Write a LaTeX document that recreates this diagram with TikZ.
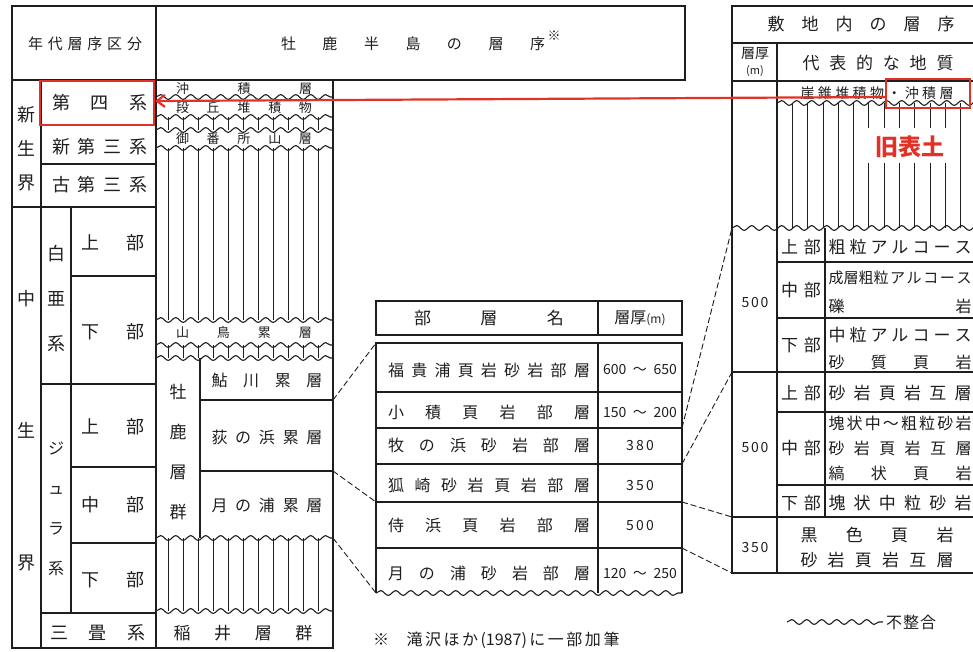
\documentclass[tikz,border=0pt]{standalone}
\usepackage{fontspec}
\setmainfont{Noto Sans CJK JP}
\usepackage{xcolor}
\usetikzlibrary{decorations.pathmorphing,arrows.meta}
\definecolor{ink}{RGB}{30,30,30}
\definecolor{redmark}{RGB}{226,50,40}
% spread a spaced text over a given width
\newcommand{\spr}[2]{\makebox[#1][s]{\spaceskip=0pt plus 1fil\relax #2}}

\begin{document}
\begin{tikzpicture}[x=1pt, y=-1pt,
  rule/.style={draw=ink, line width=1.3pt},
  hatch/.style={draw=ink, line width=0.8pt},
  wave/.style={draw=ink, line width=1.1pt, decorate, decoration={snake, segment length=15pt, amplitude=2.4pt}},
  link/.style={draw=ink, line width=0.9pt, dash pattern=on 6pt off 3pt},
  redbox/.style={draw=redmark, line width=2.2pt, inner sep=0pt},
  tx/.style={inner sep=0pt, text=ink, font=\fontsize{16}{16}\selectfont},
  bigtx/.style={tx, font=\fontsize{18}{18}\selectfont},
  smalltx/.style={tx, font=\fontsize{13}{13}\selectfont},
  numtx/.style={tx, font=\fontsize{14}{14}\selectfont},
  vert/.style={tx, align=center}]
\useasboundingbox (0,0) rectangle (973,651);

% left table
\draw[rule] (12,6) rectangle (685,80);
\draw[rule] (12,80) -- (12,648) -- (333,648) -- (333,80);
\draw[rule] (156,6) -- (156,648) (41,80) -- (41,648);
\draw[rule] (41,125) -- (156,125) (41,164) -- (156,164) (12,207) -- (156,207);
\draw[rule] (71,207) -- (71,613);
\draw[rule] (71,276) -- (156,276) (41,384) -- (156,384) (71,467) -- (156,467) (71,543) -- (156,543) (41,613) -- (156,613);

% Oshika column
\draw[wave] (156,97) -- (333,97);
\draw[wave] (156,117) -- (333,117);
\draw[wave] (156,130) -- (333,130);
\foreach \x in {168,183,...,318} \draw[hatch] (\x,117) -- (\x,130);
\draw[wave] (156,148) -- (333,148);
\foreach \x in {168,183,...,318} \draw[hatch] (\x,148) -- (\x,320);
\draw[wave] (156,320) -- (333,320);
\draw[wave] (156,345) -- (333,345);
\draw[wave] (156,358) -- (333,358);
\foreach \x in {168,183,...,318} \draw[hatch] (\x,345) -- (\x,358);
\draw[rule] (200,358) -- (200,538) (200,400) -- (333,400) (200,471) -- (333,471);
\draw[wave] (156,538) -- (333,538);
\foreach \x in {168,183,...,318} \draw[hatch] (\x,538) -- (\x,611);
\draw[wave] (156,611) -- (333,611);

% member table
\draw[rule] (376,301) rectangle (682,335) (598,301) -- (598,335);
\draw[rule] (376,593) -- (376,343) -- (682,343) -- (682,593) (598,343) -- (598,593);
\draw[wave] (376,593) -- (682,593);
\foreach \y in {392,428,464,502,548} \draw[rule] (376,\y) -- (682,\y);

% site table
\draw[rule] (985,6) -- (732,6) -- (732,573) -- (985,573);
\draw[rule] (732,43) -- (985,43) (732,81) -- (985,81) (777,43) -- (777,573);
\draw[wave] (777,103) -- (985,103);
\foreach \x in {792,807,823,838,853,960} \draw[hatch] (\x,103) -- (\x,228);
\foreach \x in {868,884,899,914,930,945} \draw[hatch] (\x,103) -- (\x,128) (\x,163) -- (\x,228);
\draw[wave] (732,228) -- (985,228);
\draw[rule] (825,228) -- (825,517);
\draw[rule] (777,262) -- (985,262) (777,318) -- (985,318) (732,372) -- (985,372);
\draw[rule] (777,412) -- (985,412) (777,485) -- (985,485) (732,517) -- (985,517);

% dashed links
\coordinate (ayuB) at (333,400);
\coordinate (ogiB) at (333,471);
\coordinate (tsukiB) at (333,538);
\coordinate (fukiT) at (376,343);
\coordinate (samuT) at (376,502);
\coordinate (memB) at (376,593);
\coordinate (koziB) at (682,428);
\coordinate (makiB) at (682,464);
\coordinate (kitsuB) at (682,502);
\coordinate (samuB) at (682,548);
\coordinate (upT) at (732,228);
\coordinate (midT) at (732,372);
\coordinate (lowT) at (732,517);
\coordinate (lowB) at (732,573);
\draw[link] (ayuB) -- (fukiT);
\draw[link] (ogiB) -- (samuT);
\draw[link] (tsukiB) -- (memB);
\draw[link] (koziB) -- (upT);
\draw[link] (makiB) -- (midT);
\draw[link] (kitsuB) -- (lowT);
\draw[link] (samuB) -- (lowB);

% left table texts
\node[tx, font=\fontsize{15}{15}\selectfont] (era) at (85,44) {\spr{114pt}{年 代 層 序 区 分}};
\node[bigtx] (quatT) at (100,103) {\spr{96pt}{第 四 系}};
\node[bigtx] (neoT) at (100,147) {\spr{96pt}{新 第 三 系}};
\node[bigtx] (paleoT) at (100,185) {\spr{96pt}{古 第 三 系}};
\node[vert, font=\fontsize{18}{34}\selectfont] (ceno) at (26,149) {新\\生\\界};
\node[vert, font=\fontsize{18}{132}\selectfont] (meso) at (26,431) {中\\生\\界};
\node[vert, font=\fontsize{18}{45}\selectfont] (cret) at (56,299) {白\\亜\\系};
\node[vert, font=\fontsize{16}{40}\selectfont] (jura) at (56,509) {ジ\\ュ\\ラ\\系};
\node[bigtx] (cretU) at (113,243) {\spr{64pt}{上 部}};
\node[bigtx] (cretL) at (113,332) {\spr{64pt}{下 部}};
\node[bigtx] (juraU) at (113,427) {\spr{64pt}{上 部}};
\node[bigtx] (juraM) at (113,505) {\spr{64pt}{中 部}};
\node[bigtx] (juraL) at (113,580) {\spr{64pt}{下 部}};
\node[bigtx] (tri) at (98,633) {\spr{95pt}{三 畳 系}};

% column texts
\node[smalltx] (chuseki) at (244,89) {\spr{136pt}{沖 積 層}};
\node[smalltx] (dankyu) at (244,108) {\spr{136pt}{段 丘 堆 積 物}};
\node[smalltx] (goban) at (244,139) {\spr{136pt}{御 番 所 山 層}};
\node[smalltx] (yamadori) at (244,333) {\spr{136pt}{山 鳥 累 層}};
\node[vert, font=\fontsize{17}{40}\selectfont] (oshika) at (178,452) {牡\\鹿\\層\\群};
\node[tx] (ayu) at (267,380) {\spr{111pt}{鮎 川 累 層}};
\node[tx] (ogi) at (267,437) {\spr{111pt}{荻 の 浜 累 層}};
\node[tx] (tsuki) at (267,505) {\spr{111pt}{月 の 浦 累 層}};
\node[tx, font=\fontsize{17}{17}\selectfont] (inai) at (243,633) {\spr{139pt}{稲 井 層 群}};
\node[tx, font=\fontsize{15}{15}\selectfont] (title) at (413,44) {\spr{264pt}{牡 鹿 半 島 の 層 序}};
\node[tx, font=\fontsize{13}{13}\selectfont] (star) at (554,36) {※};

% member table texts
\node[tx, font=\fontsize{17}{17}\selectfont] (memHd) at (489,318) {\spr{150pt}{部 層 名}};
\node[tx] (thkHd) at (640,318) {層厚{\fontsize{12}{12}\selectfont(m)}};
\node[tx] (fuki) at (489,370) {\spr{202pt}{福 貴 浦 頁 岩 砂 岩 部 層}};
\node[tx] (kozumi) at (489,412) {\spr{202pt}{小 積 頁 岩 部 層}};
\node[tx] (maki) at (489,445) {\spr{202pt}{牧 の 浜 砂 岩 部 層}};
\node[tx] (kitsune) at (489,485) {\spr{202pt}{狐 崎 砂 岩 頁 岩 部 層}};
\node[tx] (samurai) at (489,525) {\spr{202pt}{侍 浜 頁 岩 部 層}};
\node[tx] (tsukiM) at (489,573) {\spr{202pt}{月 の 浦 砂 岩 部 層}};
\node[numtx] (fukiN) at (640,370) {\spr{74pt}{600 ～ 650}};
\node[numtx] (kozumiN) at (640,412) {\spr{74pt}{150 ～ 200}};
\node[numtx] (makiN) at (640,445) {\spr{28pt}{3 8 0}};
\node[numtx] (kitsuneN) at (640,485) {\spr{28pt}{3 5 0}};
\node[numtx] (samuraiN) at (640,525) {\spr{28pt}{5 0 0}};
\node[numtx] (tsukiN) at (640,573) {\spr{74pt}{120 ～ 250}};
\node[tx] (fnMark) at (381,640) {※};
\node[tx] (fn) at (513,640) {\spr{213pt}{滝 沢 ほ か (1987) に 一 部 加 筆}};

% site table texts
\node[tx, font=\fontsize{17}{17}\selectfont] (site) at (861,24) {\spr{187pt}{敷 地 内 の 層 序}};
\node[vert, font=\fontsize{14}{16}\selectfont] (thk) at (755,62) {層厚\\{\fontsize{11}{11}\selectfont(m)}};
\node[tx, font=\fontsize{17}{17}\selectfont] (geo) at (878,63) {\spr{151pt}{代 表 的 な 地 質}};
\node[tx, font=\fontsize{14}{14}\selectfont] (talus) at (877,93) {\spr{153pt}{崖 錐 堆 積 物 ・ 沖 積 層}};
\node[tx, text=redmark, font=\bfseries\fontsize{23}{23}\selectfont] (oldsoil) at (910,147) {旧表土};
\node[numtx] (thkA) at (755,303) {\spr{27pt}{5 0 0}};
\node[numtx] (thkB) at (755,447) {\spr{27pt}{5 0 0}};
\node[numtx] (thkC) at (755,547) {\spr{27pt}{3 5 0}};
\node[tx, font=\fontsize{17}{17}\selectfont] (pA1) at (801,247) {\spr{40pt}{上 部}};
\node[tx, font=\fontsize{17}{17}\selectfont] (pA2) at (801,290) {\spr{40pt}{中 部}};
\node[tx, font=\fontsize{17}{17}\selectfont] (pA3) at (801,345) {\spr{40pt}{下 部}};
\node[tx, font=\fontsize{17}{17}\selectfont] (pB1) at (801,393) {\spr{40pt}{上 部}};
\node[tx, font=\fontsize{17}{17}\selectfont] (pB2) at (801,448) {\spr{40pt}{中 部}};
\node[tx, font=\fontsize{17}{17}\selectfont] (pB3) at (801,503) {\spr{40pt}{下 部}};
\node[tx, font=\fontsize{17}{17}\selectfont] (dA1) at (900,247) {\spr{143pt}{粗 粒 ア ル コ ー ス}};
\node[tx, font=\fontsize{15}{15}\selectfont] (dA2) at (900,278) {\spr{143pt}{成層粗粒 ア ル コ ー ス}};
\node[tx, font=\fontsize{16}{16}\selectfont] (dA3) at (900,306) {\spr{143pt}{礫 岩}};
\node[tx, font=\fontsize{17}{17}\selectfont] (dA4) at (900,335) {\spr{143pt}{中 粒 ア ル コ ー ス}};
\node[tx, font=\fontsize{16}{16}\selectfont] (dA5) at (900,362) {\spr{143pt}{砂 質 頁 岩}};
\node[tx, font=\fontsize{17}{17}\selectfont] (dB1) at (900,393) {\spr{143pt}{砂 岩 頁 岩 互 層}};
\node[tx, font=\fontsize{16}{16}\selectfont] (dB2) at (900,423) {\spr{143pt}{塊 状 中 ～ 粗 粒 砂 岩}};
\node[tx, font=\fontsize{16}{16}\selectfont] (dB3) at (900,448) {\spr{143pt}{砂 岩 頁 岩 互 層}};
\node[tx, font=\fontsize{16}{16}\selectfont] (dB4) at (900,473) {\spr{143pt}{縞 状 頁 岩}};
\node[tx, font=\fontsize{17}{17}\selectfont] (dB5) at (900,503) {\spr{143pt}{塊 状 中 粒 砂 岩}};
\node[tx, font=\fontsize{17}{17}\selectfont] (dC1) at (877,535) {\spr{153pt}{黒 色 頁 岩}};
\node[tx, font=\fontsize{17}{17}\selectfont] (dC2) at (877,560) {\spr{153pt}{砂 岩 頁 岩 互 層}};

% legend
\coordinate (uncA) at (787,622);
\coordinate (uncB) at (883,622);
\draw[wave] (uncA) -- (uncB);
\node[tx, font=\fontsize{16}{16}\selectfont] (unc) at (911,622) {\spr{50pt}{不 整 合}};

% red marks
\node[redbox, minimum width=114pt, minimum height=44pt] (quat) at (97,103) {};
\node[redbox, minimum width=84pt, minimum height=29pt] (alluv) at (928,93.5) {};
\draw[draw=redmark, line width=2.2pt, -{Straight Barb[length=8pt,width=12pt]}] ([yshift=-3.5pt]alluv.west) -- ([yshift=2pt]quat.east);
\end{tikzpicture}
\end{document}
